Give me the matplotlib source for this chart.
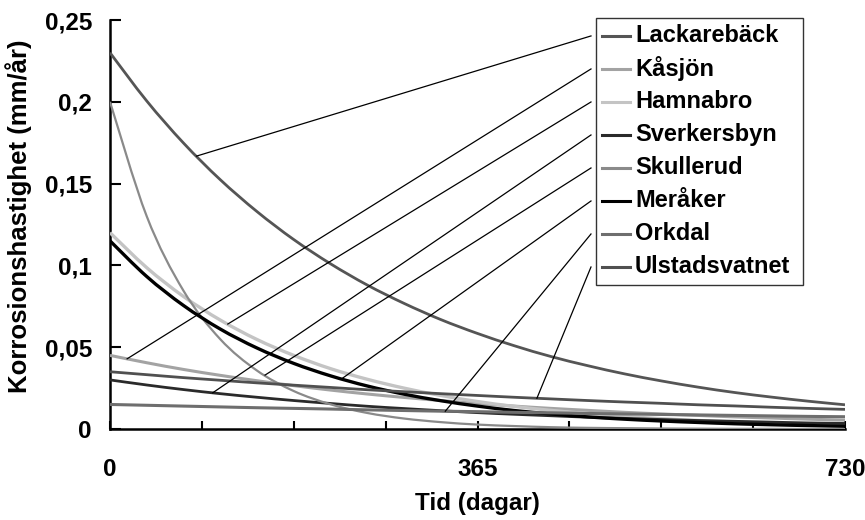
import numpy as np
import matplotlib
matplotlib.use("Agg")
import matplotlib.pyplot as plt
from matplotlib.path import Path
from matplotlib.patches import PathPatch, Rectangle

plt.rcParams['font.family'] = ['Liberation Sans', 'DejaVu Sans']
plt.rcParams['font.weight'] = 'bold'

# tid i dagar
t = [0, 36.5, 73, 109.5, 146, 182.5, 219, 255.5, 292, 328.5, 365,
     401.5, 438, 474.5, 511, 547.5, 584, 620.5, 657, 693.5, 730]

names = ['Lackarebäck', 'Kåsjön', 'Hamnabro', 'Sverkersbyn',
         'Skullerud', 'Meråker', 'Orkdal', 'Ulstadsvatnet']

lackareback = [0.230, 0.2005, 0.1748, 0.1524, 0.1329, 0.1158, 0.1010, 0.0880, 0.0768, 0.0669, 0.0584,
               0.0509, 0.0443, 0.0387, 0.0337, 0.0294, 0.0256, 0.0223, 0.0195, 0.0170, 0.0148]
kasjon = [0.045, 0.0405, 0.0364, 0.0328, 0.0295, 0.0265, 0.0238, 0.0214, 0.0193, 0.0174, 0.0156,
          0.0140, 0.0126, 0.0114, 0.0102, 0.0092, 0.0083, 0.0074, 0.0067, 0.0060, 0.0054]
hamnabro = [0.120, 0.0986, 0.0810, 0.0666, 0.0547, 0.0450, 0.0369, 0.0304, 0.0250, 0.0205, 0.0168,
            0.0138, 0.0114, 0.0094, 0.0077, 0.0063, 0.0052, 0.0043, 0.0035, 0.0029, 0.0024]
sverkersbyn = [0.030, 0.0269, 0.0241, 0.0216, 0.0194, 0.0174, 0.0156, 0.0139, 0.0125, 0.0112, 0.0100,
               0.0090, 0.0081, 0.0072, 0.0065, 0.0058, 0.0052, 0.0047, 0.0042, 0.0037, 0.0034]
skullerud = [0.200, 0.1300, 0.0845, 0.0549, 0.0357, 0.0232, 0.0151, 0.0098, 0.0064, 0.0042, 0.0027,
             0.0018, 0.0011, 0.0007, 0.0005, 0.0003, 0.0002, 0.0001, 0.0001, 0.0000, 0.0000]
meraker = [0.115, 0.0932, 0.0755, 0.0611, 0.0495, 0.0401, 0.0325, 0.0263, 0.0213, 0.0173, 0.0140,
           0.0113, 0.0092, 0.0074, 0.0060, 0.0049, 0.0040, 0.0032, 0.0026, 0.0021, 0.0017]
orkdal = [0.0150, 0.0145, 0.0140, 0.0135, 0.0130, 0.0126, 0.0122, 0.0117, 0.0113, 0.0109, 0.0106,
          0.0102, 0.0099, 0.0095, 0.0092, 0.0089, 0.0086, 0.0083, 0.0080, 0.0077, 0.0075]
ulstadsvatnet = [0.0350, 0.0332, 0.0314, 0.0298, 0.0282, 0.0268, 0.0254, 0.0240, 0.0228, 0.0216, 0.0205,
                 0.0194, 0.0184, 0.0174, 0.0165, 0.0157, 0.0148, 0.0141, 0.0133, 0.0126, 0.0120]

series = [lackareback, kasjon, hamnabro, sverkersbyn, skullerud, meraker, orkdal, ulstadsvatnet]

# where each legend pointer touches its curve (dagar)
leader_t = [86, 17, 117, 102, 154, 230, 333, 424]

colors = ['#555555', '#a3a3a3', '#c4c4c4', '#2a2a2a', '#8a8a8a', '#000000', '#6e6e6e', '#505050']
widths = [2.0, 2.2, 2.4, 2.0, 1.6, 2.4, 2.2, 2.0]

xticks_major = [0, 365, 730]
yticks = [0, 0.05, 0.1, 0.15, 0.2, 0.25]
ytick_labels = ['0', '0,05', '0,1', '0,15', '0,2', '0,25']

FS = 17.5


def smooth(x, y):
    # excel-ish smoothed line (catmull-rom -> bezier)
    pts = np.column_stack([x, y])
    n = len(pts)
    verts = [pts[0]]
    codes = [Path.MOVETO]
    for i in range(n - 1):
        p0 = pts[max(i - 1, 0)]
        p1 = pts[i]
        p2 = pts[i + 1]
        p3 = pts[min(i + 2, n - 1)]
        verts += [p1 + (p2 - p0) / 6, p2 - (p3 - p1) / 6, p2]
        codes += [Path.CURVE4] * 3
    return Path(verts, codes)


fig = plt.figure(figsize=(8.65, 5.2), dpi=100)
ax = fig.add_axes([110 / 865, 91 / 520, 735 / 865, 409 / 520])

for ys, c, lw in zip(series, colors, widths):
    ax.add_patch(PathPatch(smooth(t, ys), fill=False, edgecolor=c, lw=lw, zorder=3))

ax.set_xlim(0, 730)
ax.set_ylim(0, 0.25)

for s in ['top', 'right']:
    ax.spines[s].set_visible(False)
for s in ['left', 'bottom']:
    ax.spines[s].set_linewidth(1.8)
    ax.spines[s].set_color('black')

ax.set_xticks(xticks_major)
ax.set_xticklabels([str(v) for v in xticks_major])
ax.set_xticks(np.arange(0, 731, 91.25), minor=True)
ax.tick_params(axis='x', which='both', direction='in', length=6, width=1.5, pad=21, labelsize=FS)
ax.set_yticks(yticks)
ax.set_yticklabels(ytick_labels)
ax.tick_params(axis='y', direction='in', length=8, width=1.5, pad=13, labelsize=FS)

ax.set_xlabel('Tid (dagar)', fontsize=FS, fontweight='bold')
ax.xaxis.set_label_coords(0.5, -0.155)
ax.set_ylabel('Korrosionshastighet (mm/år)', fontsize=18.5, fontweight='bold')
ax.yaxis.set_label_coords(-0.1065, 0.52)

# legend drawn by hand so the pointer lines can start at each entry
box_x0, box_x1 = 0.6612, 0.9429
box_y0, box_y1 = 0.352, 1.0049
ax.add_patch(Rectangle((box_x0, box_y0), box_x1 - box_x0, box_y1 - box_y0,
                       transform=ax.transAxes, facecolor='white', edgecolor='#333333',
                       lw=1.0, clip_on=False, zorder=5))
entry_y0 = 0.961
entry_dy = 0.0807
for i, (name, c, ys) in enumerate(zip(names, colors, series)):
    ey = entry_y0 - i * entry_dy
    ax.plot([0.669, 0.707], [ey, ey], color=c, lw=2.2, transform=ax.transAxes,
            clip_on=False, zorder=6)
    ax.text(0.7143, ey, name, transform=ax.transAxes, fontsize=17, fontweight='bold',
            va='center', ha='left', zorder=6)
    # pointer line from legend to curve
    tx = leader_t[i]
    ty = np.interp(tx, t, ys)
    sx, sy = ax.transAxes.transform((0.6544, ey))
    dsx, dsy = ax.transData.inverted().transform((sx, sy))
    ax.plot([dsx, tx], [dsy, ty], color='black', lw=0.9, clip_on=False, zorder=4)

fig.savefig('out.png', dpi=100)
